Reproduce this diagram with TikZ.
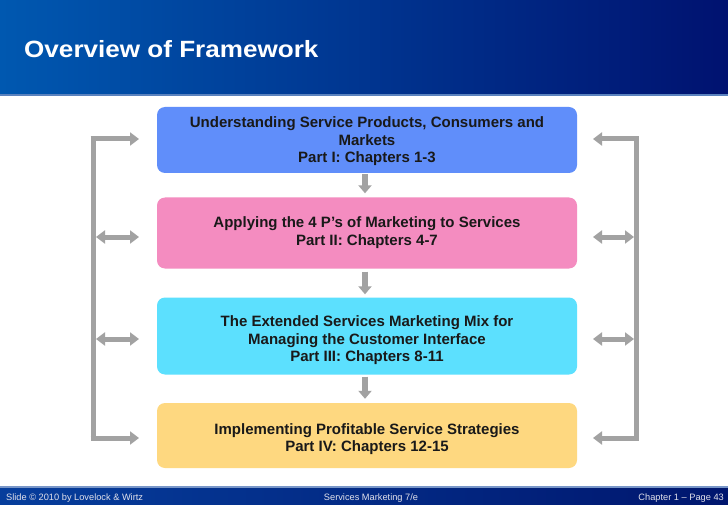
\documentclass[tikz,border=0pt]{standalone}
\usepackage{fontspec}
\setmainfont{Liberation Sans}
\usetikzlibrary{arrows.meta,shapes.misc}
\definecolor{hdrL}{RGB}{0,88,176}
\definecolor{hdrR}{RGB}{0,18,112}
\definecolor{hdrLine}{RGB}{90,130,190}
\definecolor{ftrL}{RGB}{6,62,156}
\definecolor{ftrR}{RGB}{0,22,110}
\definecolor{ftrLine}{RGB}{120,150,200}
\definecolor{cOne}{RGB}{96,142,250}
\definecolor{cTwo}{RGB}{244,140,192}
\definecolor{cThree}{RGB}{92,224,254}
\definecolor{cFour}{RGB}{254,216,128}
\definecolor{arrGray}{RGB}{162,162,162}
\definecolor{ftrText}{RGB}{225,225,235}
\newcommand{\lowered}[2]{\raisebox{-#1}[\height][\depth]{\begin{tabular}{@{}c@{}}#2\end{tabular}}}
\tikzset{
  framebox/.style={rounded corners=8pt, minimum width=420pt, align=center,
    font=\fontsize{15}{17.5}\selectfont\bfseries, text=black!90, inner sep=2pt},
  downarrow/.style={draw=arrGray, line width=6pt, -{Triangle[width=13pt,length=8pt]}},
  bracketline/.style={draw=arrGray, line width=5pt},
  sidearrow/.style={draw=arrGray, line width=5pt, -{Triangle[width=13pt,length=9pt]}},
  dblarrow/.style={draw=arrGray, line width=5pt, {Triangle[width=13pt,length=9pt]}-{Triangle[width=13pt,length=9pt]}},
  ftr/.style={font=\fontsize{9.25}{11}\selectfont, text=ftrText, inner sep=0pt}
}
\begin{document}
\begin{tikzpicture}[x=1pt,y=-1pt]
\useasboundingbox (0,0) rectangle (728,505);
\fill[white] (0,0) rectangle (728,505);
% header
\path[left color=hdrL,right color=hdrR] (0,0) rectangle (728,95);
\fill[hdrLine] (0,94) rectangle (728,96);
\node[anchor=base west, text=white, font=\fontsize{23.5}{28}\selectfont\bfseries, inner sep=0pt] (title) at (24,57.5) {\scalebox{1.11}[1]{Overview of Framework}};
% footer
\path[left color=ftrL,right color=ftrR] (0,487) rectangle (728,505);
\fill[ftrLine] (0,486) rectangle (728,487.5);
\node[ftr, anchor=base west] (fl) at (6,500) {Slide © 2010 by Lovelock \& Wirtz};
\node[ftr, anchor=base] (fc) at (371,500) {Services Marketing 7/e};
\node[ftr, anchor=base east] (fr) at (724,500) {Chapter 1 – Page 43};
% boxes
\node[framebox, fill=cOne, minimum height=66pt] (b1) at (367,140) {\lowered{1.6pt}{Understanding Service Products, Consumers and\\Markets\\Part I: Chapters 1-3}};
\node[framebox, fill=cTwo, minimum height=71pt] (b2) at (367,233) {\lowered{0pt}{Applying the 4 P’s of Marketing to Services\\Part II: Chapters 4-7}};
\node[framebox, fill=cThree, minimum height=77pt] (b3) at (367,336) {\lowered{4.6pt}{The Extended Services Marketing Mix for\\Managing the Customer Interface\\Part III: Chapters 8-11}};
\node[framebox, fill=cFour, minimum height=65pt] (b4) at (367,435.5) {\lowered{4.1pt}{Implementing Profitable Service Strategies\\Part IV: Chapters 12-15}};
% down arrows
\draw[downarrow] ([xshift=-2pt,yshift=-1pt]b1.south) -- ([xshift=-2pt,yshift=4pt]b2.north);
\draw[downarrow] ([xshift=-2pt,yshift=-3pt]b2.south) -- ([xshift=-2pt,yshift=3pt]b3.north);
\draw[downarrow] ([xshift=-2pt,yshift=-2pt]b3.south) -- ([xshift=-2pt,yshift=4pt]b4.north);
% left bracket
\coordinate (lt) at (93,139);
\coordinate (lb) at (93,438);
\coordinate (ltt) at (139,139);
\coordinate (lbt) at (139,438);
\draw[bracketline] ([yshift=2.5pt]lt) -- ([yshift=-2.5pt]lb);
\draw[sidearrow] ([xshift=-2.5pt]lt) -- (ltt);
\draw[sidearrow] ([xshift=-2.5pt]lb) -- (lbt);
\coordinate (lm1a) at (96,237); \coordinate (lm1b) at (139,237);
\coordinate (lm2a) at (96,339); \coordinate (lm2b) at (139,339);
\draw[dblarrow] (lm1a) -- (lm1b);
\draw[dblarrow] (lm2a) -- (lm2b);
% right bracket
\coordinate (rt) at (636,139);
\coordinate (rb) at (636,438);
\coordinate (rtt) at (593,139);
\coordinate (rbt) at (593,438);
\draw[bracketline] ([yshift=2.5pt]rt) -- ([yshift=-2.5pt]rb);
\draw[sidearrow] ([xshift=2.5pt]rt) -- (rtt);
\draw[sidearrow] ([xshift=2.5pt]rb) -- (rbt);
\coordinate (rm1a) at (593,237); \coordinate (rm1b) at (634,237);
\coordinate (rm2a) at (593,339); \coordinate (rm2b) at (634,339);
\draw[dblarrow] (rm1a) -- (rm1b);
\draw[dblarrow] (rm2a) -- (rm2b);
\end{tikzpicture}
\end{document}
